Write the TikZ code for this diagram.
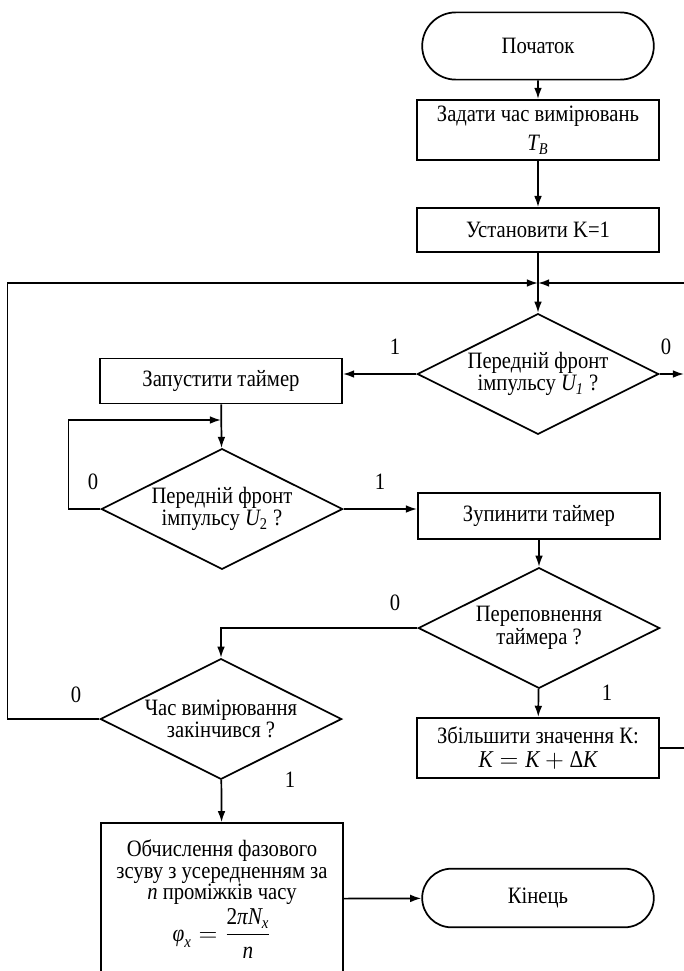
\documentclass[tikz,border=0pt]{standalone}
\usepackage{amsmath}
\usepackage{fontspec}
\setmainfont{Liberation Serif}[FakeStretch=0.88]
\usetikzlibrary{shapes.geometric, shapes.misc, arrows.meta}

\newcommand{\vi}[1]{\textit{#1}}

\tikzset{
  term/.style = {draw, rounded rectangle, minimum width=141pt, minimum height=39pt},
  proc/.style = {draw, rectangle, minimum width=140.5pt, align=center, inner sep=2pt},
  cond/.style = {draw, diamond, aspect=2, minimum width=140pt, minimum height=70pt, inner sep=0pt, align=center},
}

\begin{document}
\begin{tikzpicture}[x=0.58pt, y=-0.58pt, ->, >={Latex[length=6.5pt,width=4.5pt]}, line width=1pt, font=\fontsize{13.6}{13}\selectfont]
\useasboundingbox (0,0) rectangle (684,971);
\clip (0,0) rectangle (684,971);

\node[term](start) at (538,46) {Початок};
\node[proc, minimum height=35pt](settime) at (538,130) {Задати час вимірювань\\[4pt]$\vi{T}_{\vi{B}}$};
\node[proc, minimum height=25.5pt](setk) at (538,230) {Установити K=1};
\coordinate (join) at (538,283);
\node[cond](front1) at (538,374) {Передній фронт\\імпульсу $\vi{U}_{\vi{1}}$ ?};
\node[proc, minimum height=26pt](run) at (221,381) {Запустити таймер};
\node[cond](front2) at (222,509) {Передній фронт\\імпульсу $\vi{U}_{\text{2}}$ ?};
\node[proc, minimum height=26.5pt](stop) at (539,516) {Зупинити таймер};
\node[cond](over) at (539,628) {Переповнення\\таймера ?};
\node[cond](ended) at (221,719) {Час вимірювання\\закінчився ?};
\node[proc, minimum height=35pt, inner sep=1pt](inc) at (538,748) {Збільшити значення К:\\[1pt]{\fontsize{14}{14}\selectfont $\vi{K} = \vi{K} + \text{Δ}\vi{K}$}};
\node[proc, minimum height=88pt, font=\fontsize{13.6}{12.5}\selectfont](calc) at (222,899) {Обчислення фазового\\зсуву з усередненням за\\\vi{n} проміжків часу\\[1pt]{\fontsize{14}{14}\selectfont $\vi{φ}_{\vi{x}} = \dfrac{\text{2}\vi{πN}_{\vi{x}}}{\vi{n}}$}};
\node[term, minimum height=34pt](finish) at (538,898) {Кінець};
\coordinate (out1) at (684,374);

% labels of the branches
\node (one1) at (395,347) {1};
\node (zero1) at (666,347) {0};
\node (zero2) at (93,482) {0};
\node (one2) at (380,482) {1};
\node (zero3) at (395,603) {0};
\node (one3) at (607,693) {1};
\node (zero4) at (76,695) {0};
\node (one4) at (290,780) {1};

\path (start) edge (settime);
\path (settime) edge (setk);
\path (setk) edge (front1);
\path (front1.west) edge (front1.west -| run.east);
\path (front1.east) edge (out1);
\path (run) edge (front2);
\coordinate (back2) at (221,420);
\draw (front2.west) -- ++(-32,0) |- (back2);
\path (front2.east) edge (front2.east -| stop.west);
\path (stop) edge (over);
\draw (over.west) -| (ended.north);
\path (over) edge (inc);
\path (ended) edge (calc);
\draw (ended.west) -- ++(-92,0) |- (join);
\draw (inc.east) -- ++(45,0) |- (join);
\path (calc) edge (finish);
\end{tikzpicture}
\end{document}
